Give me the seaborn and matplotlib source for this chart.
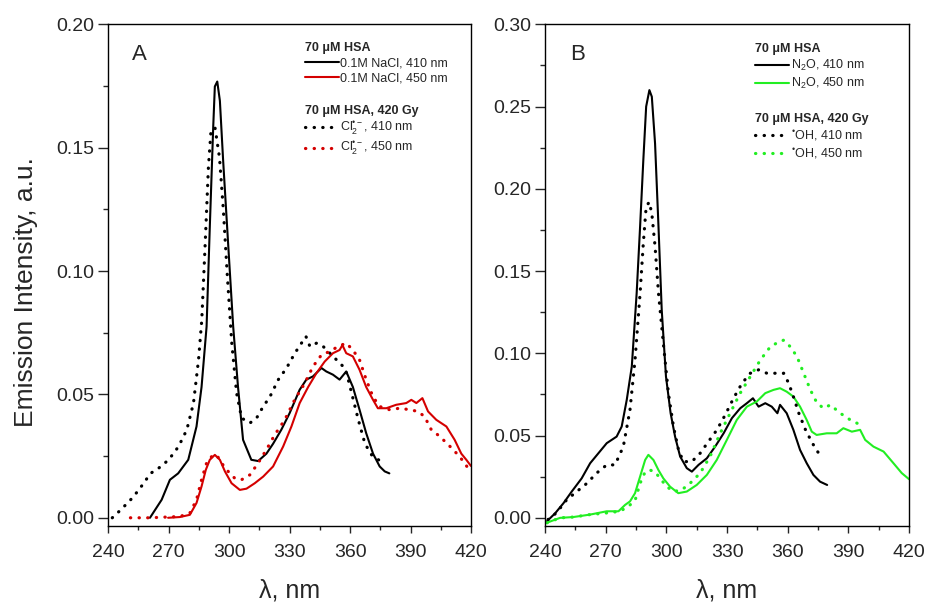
import matplotlib
matplotlib.use("Agg")
import matplotlib.pyplot as plt
import seaborn as sns
import pandas as pd
from matplotlib.ticker import MultipleLocator, FormatStrFormatter

# ---------------- data ----------------
# Panel A
a_nacl410_x = [260.7, 266.5, 270.6, 274.7, 279.7, 283.8, 286.3, 288.8, 290.4, 292.1, 292.9, 294.1, 295.4, 297.0,
               299.5, 302.0, 304.4, 306.9, 311.0, 314.4, 318.5, 321.8, 325.9, 330.0, 335.0, 338.3, 341.6, 345.8,
               348.2, 351.5, 354.8, 358.1, 361.4, 364.7, 368.0, 371.4, 374.7, 377.2, 379.5]
a_nacl410_y = [0.0, 0.0073, 0.0154, 0.018, 0.0235, 0.037, 0.053, 0.0775, 0.118, 0.1586, 0.1748, 0.1768, 0.169, 0.145,
               0.111, 0.0775, 0.053, 0.0316, 0.0235, 0.023, 0.026, 0.030, 0.0357, 0.0424, 0.0519, 0.056, 0.0573, 0.0607,
               0.0593, 0.058, 0.056, 0.0593, 0.053, 0.0438, 0.0343, 0.026, 0.0208, 0.0188, 0.018]

a_cl410_x = [242, 246.2, 251.1, 255.2, 261, 265, 270, 274.9, 279, 282.3, 284.8, 286.4, 288.1, 289.7, 291, 293, 295.2,
             297.1, 299.1, 301.3, 303.7, 306.2, 310.3, 313.6, 316.9, 320.2, 324.4, 328.5, 332.6, 335.9, 338.1, 340.1,
             343.4, 346.7, 350, 353.3, 356.6, 358.3, 360.8, 364.1, 367.4, 370.7, 374.1, 377.4]
a_cl410_y = [0.0, 0.0032, 0.0073, 0.0113, 0.018, 0.0201, 0.0235, 0.0289, 0.0357, 0.0465, 0.064, 0.080, 0.111, 0.142,
             0.157, 0.158, 0.146, 0.125, 0.098, 0.0708, 0.0505, 0.0404, 0.0384, 0.0404, 0.0451, 0.049, 0.056, 0.0607,
             0.0667, 0.0708, 0.0735, 0.0694, 0.0708, 0.0694, 0.0667, 0.064, 0.0613, 0.0586, 0.0505, 0.0397, 0.030,
             0.0255, 0.0235, 0.022]

a_nacl450_x = [269.7, 275.5, 280.5, 283.8, 286.3, 288.4, 290.4, 292.9, 295.4, 297.9, 301.2, 305.3, 308.6, 312.7,
               316.9, 321.8, 326.8, 330.9, 335, 339.2, 343.3, 347.4, 351.5, 354.8, 356.2, 358.1, 361.4, 364.7, 368,
               371.4, 373.8, 378, 382.9, 387.9, 390.4, 392.9, 395.9, 398.7, 402.8, 407.8, 411.9, 415.2, 417.7, 420]
a_nacl450_y = [0.0, 0.0003, 0.0012, 0.006, 0.0127, 0.0194, 0.0235, 0.0255, 0.0235, 0.0188, 0.014, 0.0113, 0.0118,
               0.014, 0.0167, 0.0208, 0.0289, 0.037, 0.0465, 0.053, 0.0586, 0.0633, 0.0667, 0.068, 0.070, 0.0667,
               0.0654, 0.060, 0.053, 0.0478, 0.0444, 0.0444, 0.0458, 0.0465, 0.0478, 0.0465, 0.0485, 0.0431, 0.0397,
               0.037, 0.0316, 0.026, 0.0235, 0.021]

a_cl450_x = [251, 260.7, 269, 275.5, 280.5, 283.8, 286.3, 288.8, 291.3, 293.8, 296.2, 299.5, 302.8, 306.1, 310.3,
             314.4, 318.5, 322.6, 327.6, 332.5, 337.5, 341.6, 345.8, 349.9, 354, 358.1, 361.4, 364.7, 368, 371.4,
             374.7, 379.6, 384.6, 389.6, 393.7, 397, 400.3, 404.5, 409.5, 414.4, 418.6, 420]
a_cl450_y = [0.0, 0.0, 0.0003, 0.0005, 0.0019, 0.0073, 0.0154, 0.0222, 0.0248, 0.0255, 0.0222, 0.0188, 0.016,
             0.0154, 0.0174, 0.0222, 0.0276, 0.0336, 0.0397, 0.0478, 0.0545, 0.0613, 0.066, 0.0674, 0.0694, 0.0708,
             0.068, 0.064, 0.056, 0.049, 0.0451, 0.0438, 0.0444, 0.0438, 0.0431, 0.041, 0.0357, 0.033, 0.029,
             0.0248, 0.0201, 0.019]

# Panel B
b_n2o410_x = [241, 245, 249.1, 253.2, 258.1, 262.3, 266.4, 270.5, 275.4, 277.9, 280.4, 282.9, 285.3, 287, 288.6,
              290, 291.6, 292.8, 294.4, 296.1, 297.7, 299.8, 302.1, 304.3, 306.8, 310.1, 312.6, 315.9, 320, 324.1,
              328.3, 332.4, 336.5, 339.8, 342.8, 345.6, 348.9, 352.1, 354.9, 356.2, 359.5, 362.8, 366.1, 369.4,
              372.7, 376, 379.5]
b_n2o410_y = [-0.002, 0.0028, 0.0089, 0.016, 0.024, 0.0332, 0.0393, 0.0454, 0.0494, 0.0555, 0.0717, 0.092, 0.1365,
              0.177, 0.2175, 0.250, 0.260, 0.256, 0.2276, 0.177, 0.1264, 0.0859, 0.0636, 0.0494, 0.0373, 0.0302,
              0.0281, 0.0322, 0.0362, 0.0433, 0.0514, 0.0606, 0.0666, 0.0697, 0.0727, 0.0676, 0.0697, 0.0676,
              0.0636, 0.0687, 0.0636, 0.0535, 0.0413, 0.0332, 0.0261, 0.022, 0.020]

b_oh410_x = [241.5, 245.6, 250.7, 255.7, 260.7, 265.5, 270.5, 274.6, 278.7, 282, 284.5, 287, 288.6, 290, 291.5,
             292.8, 294.4, 296.1, 298.5, 301, 303.5, 306, 308.4, 312.6, 316.7, 320.8, 325, 329.1, 333.2, 337.4,
             341.5, 345.6, 349.7, 353.9, 358, 360.5, 362.8, 365.5, 368.8, 372.2, 376.3]
b_oh410_y = [-0.001, 0.003, 0.011, 0.016, 0.021, 0.0272, 0.0322, 0.0322, 0.0433, 0.0656, 0.096, 0.1365, 0.167,
             0.189, 0.192, 0.185, 0.165, 0.1365, 0.106, 0.0758, 0.0555, 0.0413, 0.0342, 0.0342, 0.0393, 0.0464,
             0.0535, 0.0626, 0.0727, 0.0818, 0.0879, 0.090, 0.0879, 0.0879, 0.0879, 0.0818, 0.0737, 0.0636, 0.0535,
             0.0454, 0.0373]

b_n2o450_x = [240.8, 247.4, 254, 262.3, 270.5, 276.3, 279.6, 282, 284.5, 287, 289.5, 291.1, 293.6, 296.1, 298.5,
              301.8, 305.9, 310.1, 315, 320, 324.9, 329.9, 334.8, 339.8, 344.7, 348.9, 353, 356.2, 359.5, 362.8,
              366.1, 369.4, 371.9, 374.3, 379.3, 384.2, 387.5, 391.7, 395.8, 398.3, 402.4, 407.4, 412.3, 416.4, 420]
b_n2o450_y = [-0.003, 0.0, 0.0005, 0.002, 0.004, 0.004, 0.0079, 0.010, 0.015, 0.0251, 0.0352, 0.0383, 0.0352,
              0.029, 0.024, 0.019, 0.015, 0.016, 0.020, 0.0261, 0.0352, 0.0474, 0.0595, 0.0676, 0.0707, 0.0758,
              0.0778, 0.0788, 0.0767, 0.0737, 0.0676, 0.0595, 0.0524, 0.0504, 0.0514, 0.0514, 0.0545, 0.0524,
              0.0535, 0.0474, 0.0433, 0.0403, 0.0332, 0.0272, 0.0235]

b_oh450_x = [241, 247.4, 254, 262.3, 270.5, 277.1, 281.2, 284.5, 287, 289.5, 292, 294.4, 296.9, 300.2, 303.5,
             307.6, 311.7, 316.7, 321.6, 326.6, 331.5, 336.5, 341.5, 346.5, 351.4, 355.6, 358, 361.3, 364.6, 367.9,
             371.2, 374.5, 377.8, 381.1, 386, 391, 396, 397.6]
b_oh450_y = [-0.003, 0.0, 0.0005, 0.002, 0.003, 0.004, 0.007, 0.0105, 0.021, 0.028, 0.029, 0.028, 0.024, 0.019,
             0.016, 0.017, 0.021, 0.0272, 0.0373, 0.0514, 0.0636, 0.0758, 0.0859, 0.096, 0.104, 0.107, 0.108, 0.104,
             0.098, 0.0879, 0.0778, 0.0697, 0.0666, 0.0687, 0.0636, 0.0595, 0.0565, 0.0565]

x_ticks = [240, 270, 300, 330, 360, 390, 420]

# ---------------- style ----------------
sns.set_style("ticks")
plt.rcParams['font.family'] = ['Liberation Sans', 'DejaVu Sans']
plt.rcParams['mathtext.fontset'] = 'custom'
plt.rcParams['mathtext.rm'] = 'Liberation Sans'
plt.rcParams['mathtext.it'] = 'Liberation Sans:italic'
plt.rcParams['mathtext.bf'] = 'Liberation Sans:bold'
plt.rcParams['mathtext.default'] = 'regular'

RED = '#d40000'
GREEN = '#22ee22'
DOT = (0, (0.1, 2.6))

fig = plt.figure(figsize=(9.26, 6.03), dpi=100)
axA = fig.add_axes([0.1169, 0.127, 0.3917, 0.8327])
axB = fig.add_axes([0.5886, 0.127, 0.3931, 0.8327])


def draw(ax, x, y, color, dotted):
    df = pd.DataFrame({'x': x, 'y': y})
    if dotted:
        sns.lineplot(data=df, x='x', y='y', ax=ax, color=color, linewidth=2.3, sort=False,
                     linestyle=DOT, dash_capstyle='round')
    else:
        sns.lineplot(data=df, x='x', y='y', ax=ax, color=color, linewidth=1.5, sort=False)
    return ax.lines[-1]


lA1 = draw(axA, a_nacl410_x, a_nacl410_y, 'black', False)
lA2 = draw(axA, a_nacl450_x, a_nacl450_y, RED, False)
lA3 = draw(axA, a_cl410_x, a_cl410_y, 'black', True)
lA4 = draw(axA, a_cl450_x, a_cl450_y, RED, True)

lB1 = draw(axB, b_n2o410_x, b_n2o410_y, 'black', False)
lB2 = draw(axB, b_n2o450_x, b_n2o450_y, GREEN, False)
lB3 = draw(axB, b_oh410_x, b_oh410_y, 'black', True)
lB4 = draw(axB, b_oh450_x, b_oh450_y, GREEN, True)

for ax in (axA, axB):
    ax.set_xlim(240, 420)
    ax.set_xticks(x_ticks)
    ax.xaxis.set_minor_locator(MultipleLocator(15))
    ax.yaxis.set_major_locator(MultipleLocator(0.05))
    ax.yaxis.set_minor_locator(MultipleLocator(0.025))
    ax.yaxis.set_major_formatter(FormatStrFormatter('%.2f'))
    for s in ax.spines.values():
        s.set_visible(True)
        s.set_linewidth(1.0)
        s.set_color('black')
    ax.tick_params(axis='y', which='major', direction='out', length=7, width=1.0, labelsize=14, pad=3)
    ax.tick_params(axis='y', which='minor', direction='out', length=3.5, width=1.0)
    ax.tick_params(axis='x', which='major', direction='out', length=5, width=1.0, labelsize=14, pad=8)
    ax.tick_params(axis='x', which='minor', direction='out', length=3, width=1.0)
    ax.tick_params(top=False, right=False, which='both')
    ax.set_xlabel('λ, nm', fontsize=18)
    ax.xaxis.set_label_coords(0.5, -0.104)
    ax.set_ylabel('')

axA.set_ylim(-0.0035, 0.2)
axB.set_ylim(-0.0052, 0.3)

axA.set_ylabel('Emission Intensity, a.u.', fontsize=19)
axA.yaxis.set_label_coords(-0.195, 0.466)

axA.text(0.085, 0.939, 'A', transform=axA.transAxes, fontsize=16, ha='center', va='center')
axB.text(0.088, 0.939, 'B', transform=axB.transAxes, fontsize=16, ha='center', va='center')

LEG = dict(frameon=False, fontsize=9, loc='upper left', borderpad=0, borderaxespad=0,
           handlelength=2.7, handletextpad=0.15, labelspacing=0.25, alignment='left',
           title_fontproperties={'weight': 'bold', 'size': 9})

legA1 = axA.legend([lA1, lA2], ['0.1M NaCl, 410 nm', '0.1M NaCl, 450 nm'], title='70 μM HSA',
                   bbox_to_anchor=(0.542, 0.965), **LEG)
axA.add_artist(legA1)
legA2 = axA.legend([lA3, lA4], ['Cl$_2^{•-}$, 410 nm', 'Cl$_2^{•-}$, 450 nm'],
                   title='70 μM HSA, 420 Gy', bbox_to_anchor=(0.542, 0.840), **LEG)

legB1 = axB.legend([lB1, lB2], ['N$_2$O, 410 nm', 'N$_2$O, 450 nm'], title='70 μM HSA',
                   bbox_to_anchor=(0.577, 0.963), **LEG)
axB.add_artist(legB1)
legB2 = axB.legend([lB3, lB4], ['$^{•}$OH, 410 nm', '$^{•}$OH, 450 nm'],
                   title='70 μM HSA, 420 Gy', bbox_to_anchor=(0.577, 0.824), **LEG)

fig.savefig('out.png', dpi=100)
